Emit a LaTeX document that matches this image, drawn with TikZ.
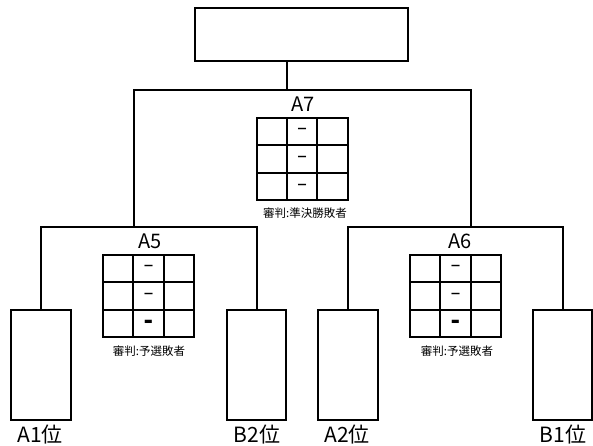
\documentclass[tikz,border=0pt]{standalone}
\usepackage{fontspec}
\setmainfont{Noto Sans CJK JP}
\newfontfamily\dashfont{DejaVu Sans}
\begin{document}
\begin{tikzpicture}[x=1pt,y=-1pt,
  line width=2pt,
  box/.style={draw, rectangle, inner sep=0pt, outer sep=0pt, line width=2pt},
  gridbox/.style={draw, rectangle, inner sep=0pt, outer sep=0pt, line width=2pt, minimum width=91pt, minimum height=82pt},
  title/.style={font=\fontsize{20}{20}\selectfont, inner sep=0pt},
  place/.style={font=\fontsize{21}{21}\selectfont, inner sep=0pt},
  caption/.style={font=\fontsize{11.5}{11.5}\selectfont, inner sep=0pt},
  dashmark/.style={font=\dashfont\fontsize{20}{20}\selectfont, inner sep=0pt},
  bolddash/.style={font=\dashfont\bfseries\fontsize{23}{23}\selectfont, inner sep=0pt}]
\useasboundingbox (0,0) rectangle (593,446);

% boxes
\node[box, minimum width=213pt, minimum height=53pt] (final) at (301.5,34.5) {};
\node[box, minimum width=60pt, minimum height=110pt] (A1) at (41,365) {};
\node[box, minimum width=59pt, minimum height=110pt] (B2) at (256.5,365) {};
\node[box, minimum width=60pt, minimum height=110pt] (A2) at (348,365) {};
\node[box, minimum width=59pt, minimum height=110pt] (B1) at (562.5,365) {};

% labels of places
\node[place] (lA1) at (40,435) {A1位};
\node[place] (lB2) at (257,435) {B2位};
\node[place] (lA2) at (347,435) {A2位};
\node[place] (lB1) at (563,435) {B1位};

% junction coordinates
\coordinate (t7) at (287,90);
\coordinate (h5) at (134,227);
\coordinate (h6) at (471,227);

% connectors
\draw (final.south -| t7) -- (t7);
\draw (h5) |- (t7) -| (h6);
\draw (A1.north) |- (h5) -| (B2.north);
\draw (A2.north) |- (h6) -| (B1.north);

% match tables
\foreach \g/\cx/\cy in {g7/302/159, g5/148.5/296, g6/455.5/296}{
  \node[gridbox] (\g) at (\cx,\cy) {};
  \draw (\g.north west) ++(30.33,0) -- ++(0,82);
  \draw (\g.north west) ++(60.67,0) -- ++(0,82);
  \draw (\g.north west) ++(0,27.33) -- ++(91,0);
  \draw (\g.north west) ++(0,54.67) -- ++(91,0);
}

\node[title] (tA7) at (303,104) {A7};
\node[title] (tA5) at (150,241) {A5};
\node[title] (tA6) at (460,241) {A6};

\node[dashmark] (d71) at (302,131) {–};
\node[dashmark] (d72) at (302,159) {–};
\node[dashmark] (d73) at (302,187) {–};
\node[dashmark] (d51) at (148.5,268) {–};
\node[dashmark] (d52) at (148.5,296) {–};
\node[bolddash] (d53) at (148.5,324) {-};
\node[dashmark] (d61) at (455.5,268) {–};
\node[dashmark] (d62) at (455.5,296) {–};
\node[bolddash] (d63) at (455.5,324) {-};

\node[caption] (c7) at (305,213) {審判:準決勝敗者};
\node[caption] (c5) at (149,351) {審判:予選敗者};
\node[caption] (c6) at (457,351) {審判:予選敗者};
\end{tikzpicture}
\end{document}
